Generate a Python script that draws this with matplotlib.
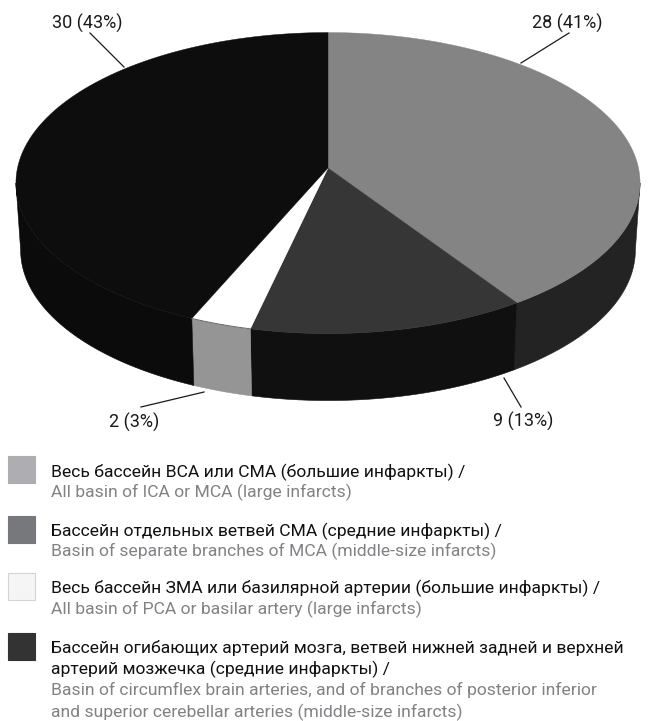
#!/usr/bin/env python3
"""
Infarct territory distribution as a perspective 3D pie with a bilingual legend.
"""

import numpy as np
import matplotlib
matplotlib.use('Agg')
import matplotlib.pyplot as plt
from matplotlib.patches import Rectangle

# ============================================================================
# Data
# ============================================================================
counts = [28, 9, 2, 30]
percents = [41, 13, 3, 43]

top_colors = ['#848484', '#363636', '#ffffff', '#0d0d0d']
wall_colors = ['#232323', '#101010', '#959595', '#0b0b0b']
swatch_colors = ['#aeaeb2', '#77787b', '#f5f5f5', '#333333']

legend_ru = [
    ['Весь бассейн ВСА или СМА (большие инфаркты) /'],
    ['Бассейн отдельных ветвей СМА (средние инфаркты) /'],
    ['Весь бассейн ЗМА или базилярной артерии (большие инфаркты) /'],
    ['Бассейн огибающих артерий мозга, ветвей нижней задней и верхней',
     'артерий мозжечка (средние инфаркты) /'],
]
legend_en = [
    ['All basin of ICA or MCA (large infarcts)'],
    ['Basin of separate branches of MCA (middle-size infarcts)'],
    ['All basin of PCA or basilar artery (large infarcts)'],
    ['Basin of circumflex brain arteries, and of branches of posterior inferior',
     'and superior cerebellar arteries (middle-size infarcts)'],
]

# ============================================================================
# Perspective projection of the pie disc, in figure pixels
# ============================================================================
APEX_X, APEX_Y = 328, 168
SCALE_X, SCALE_Y = 310.5, 149
TILT = 0.10
WALL = 67
WALL_TAPER = 0.985


def rim(clock_deg):
    """Screen position of a rim point, angle measured clockwise from the top."""
    a = np.radians(clock_deg)
    u, v = np.sin(a), -np.cos(a)
    w = 1 - TILT * v
    return SCALE_X * u / w, SCALE_Y * v / w


fig = plt.figure(figsize=(6.51, 7.21), dpi=100)
ax = fig.add_axes([0, 0, 1, 1])
ax.set_xlim(0, 651)
ax.set_ylim(721, 0)
ax.axis('off')

edges = np.concatenate([[0], np.cumsum(counts)]) / sum(counts) * 360

# only the front arc has a visible wall, between the two side extremes
side = np.degrees(np.arccos(-TILT))
for i in range(4):
    start, stop = max(edges[i], side), min(edges[i + 1], 360 - side)
    if start >= stop:
        continue
    t = np.linspace(start, stop, 200)
    x, y = rim(t)
    xs = np.concatenate([APEX_X + x, APEX_X + x[::-1] * WALL_TAPER])
    ys = np.concatenate([APEX_Y + y, APEX_Y + y[::-1] + WALL])
    ax.fill(xs, ys, color=wall_colors[i], lw=0.4, zorder=2)

for i in range(4):
    t = np.linspace(edges[i], edges[i + 1], 200)
    x, y = rim(t)
    ax.fill(np.r_[APEX_X, APEX_X + x], np.r_[APEX_Y, APEX_Y + y],
            color=top_colors[i], lw=0.3, zorder=3)

# thin dark seam along the rim of the small slice
t = np.linspace(edges[2], edges[3], 50)
x, y = rim(t)
ax.plot(APEX_X + x, APEX_Y + y, color='#666666', lw=0.7, zorder=4)

# ============================================================================
# Value labels with leader lines
# ============================================================================
label_font = ['Roboto', 'DejaVu Sans']
label_pos = [(567, 23), (523, 421), (134, 422), (87, 23)]
leaders = [((569, 33), (521, 63)), ((504, 378), (521, 407)),
           ((204, 392), (141, 407)), ((90, 33), (124, 67))]

for i in range(4):
    ax.text(label_pos[i][0], label_pos[i][1], f'{counts[i]} ({percents[i]}%)',
            ha='center', va='center', fontsize=13, color='#1a1a1a', family=label_font)
    (x0, y0), (x1, y1) = leaders[i]
    ax.plot([x0, x1], [y0, y1], color='#1a1a1a', lw=0.9, zorder=4)

# ============================================================================
# Legend
# ============================================================================
swatch_tops = [456, 516, 573, 633]
line_y = [[472, 492], [531, 551], [588, 609], [648, 669, 690, 712]]

for i in range(4):
    edge = '#d4d4d4' if i == 2 else swatch_colors[i]
    ax.add_patch(Rectangle((8, swatch_tops[i]), 27, 27, facecolor=swatch_colors[i],
                           edgecolor=edge, lw=0.8))
    lines = legend_ru[i] + legend_en[i]
    n_ru = len(legend_ru[i])
    for j, line in enumerate(lines):
        ax.text(51, line_y[i][j], line, ha='left', va='center', fontsize=12.6,
                color='#111111' if j < n_ru else '#808285', family=label_font)

fig.savefig('out.png', dpi=100, facecolor='white')
